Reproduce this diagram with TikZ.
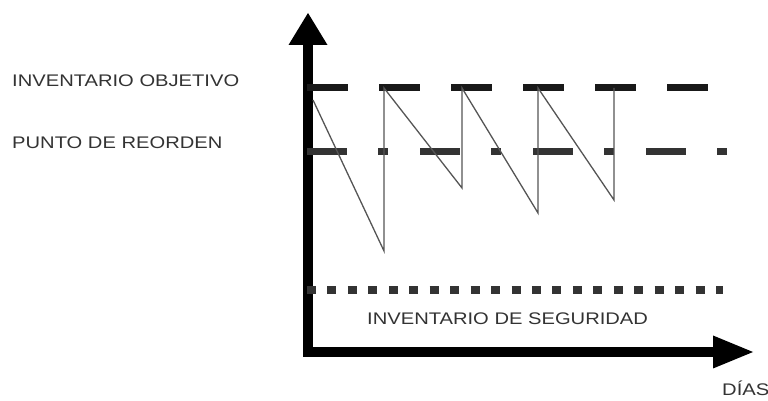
\documentclass[tikz,border=0pt]{standalone}
\usepackage{fontspec}
\setmainfont{Liberation Sans}
\usetikzlibrary{arrows.meta}
\definecolor{grigioscuro}{HTML}{333333}
\definecolor{grigiolinea}{HTML}{555555}
\newcommand{\etichetta}[1]{\scalebox{1.2}[1]{#1}}

\begin{document}
\begin{tikzpicture}[x=1pt,y=1pt,
  testo/.style={anchor=base west,inner sep=0pt,text=grigioscuro,font=\fontsize{16.8}{18}\selectfont},
  asse/.style={line width=10pt,line join=miter},
  livello/.style={line width=7pt},
  dente/.style={line width=1.3pt,grigiolinea,line join=miter}]
\useasboundingbox (0,0) rectangle (768,401);

% --- Assi ---
\draw[asse,{Triangle[length=32pt,width=39pt,line width=0pt]}-{Triangle[length=40pt,width=33pt,line width=0pt]}]
  (308,388) |- (753,49);

% --- Livelli di inventario ---
\draw[livello,black!90,dash pattern=on 41pt off 31pt] (307,313) -- (708,313); % obiettivo
\draw[livello,grigioscuro,dash pattern=on 40pt off 31pt on 10pt off 32pt] (307,249) -- (728,249); % riordino
\draw[line width=8pt,grigioscuro,dash pattern=on 9pt off 11.45pt] (307,111) -- (723,111); % sicurezza

% --- Andamento a dente di sega ---
\draw[dente] (313,301) -- (384,150) -- (384,313) -- (462,213) -- (462,313)
  -- (538,188) -- (538,313) -- (614,201) -- (614,313);

% --- Etichette ---
\node[testo] (obiettivo) at (12,314) {\etichetta{INVENTARIO OBJETIVO}};
\node[testo] (riordino) at (12,252) {\etichetta{PUNTO DE REORDEN}};
\node[testo] (sicurezza) at (367,76) {\etichetta{INVENTARIO DE SEGURIDAD}};
\node[testo] (giorni) at (722,5) {\etichetta{DÍAS}};

\end{tikzpicture}
\end{document}
